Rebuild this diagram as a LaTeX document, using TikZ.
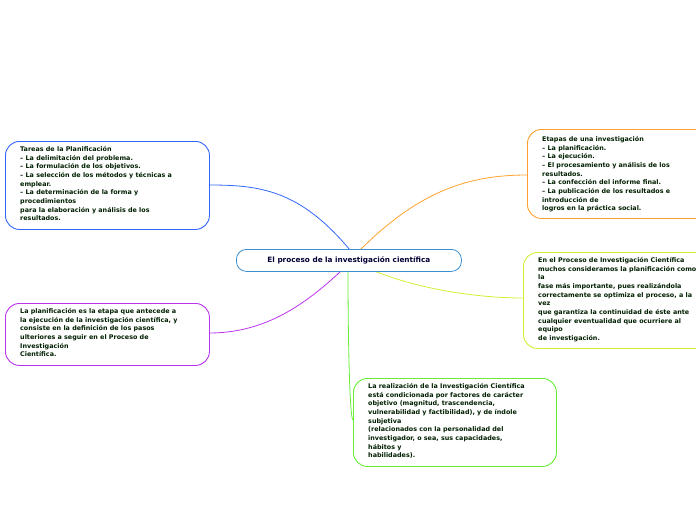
\documentclass[tikz,border=0pt]{standalone}
\usepackage{fontspec}
\setmainfont{DejaVu Sans}
\begin{document}
\begin{tikzpicture}[x=1pt,y=-1pt,
  box/.style={draw,rounded corners=14pt,line width=0.9pt,anchor=north west,inner sep=0pt},
  txt/.style={anchor=north west,align=left,inner sep=0pt,font=\fontsize{6.4}{8.7}\selectfont\bfseries,text=black!70!green!40!black},
  link/.style={line width=0.8pt}]
\useasboundingbox (0,0) rectangle (696,520);
\clip (0,0) rectangle (696,520);
\definecolor{cb}{HTML}{3366FF}
\definecolor{cp}{HTML}{BB33EE}
\definecolor{co}{HTML}{FFA12E}
\definecolor{cy}{HTML}{D4EE33}
\definecolor{cg}{HTML}{66EE33}
\definecolor{cc}{HTML}{3A8FD0}
\coordinate (c1) at (350,250);
\coordinate (c2) at (342,270);
\coordinate (c3) at (360,250);
\coordinate (c4) at (372,270);
\coordinate (c5) at (348,270);
\coordinate (e1) at (209,185);
\coordinate (e2) at (209,333);
\coordinate (e3) at (527,175);
\coordinate (e4) at (523,298);
\coordinate (e5) at (353,420);
\draw[link,cb] (c1) .. controls (300,190) and (260,185) .. (e1);
\draw[link,cp] (c2) .. controls (300,310) and (260,333) .. (e2);
\draw[link,co] (c3) .. controls (420,190) and (470,175) .. (e3);
\draw[link,cy] (c4) .. controls (420,290) and (480,298) .. (e4);
\draw[link,cg] (c5) .. controls (348,350) and (350,420) .. (e5);
\node[box,cb,minimum width=204pt,minimum height=88pt] (b1) at (5,141) {};
\node[box,cp,minimum width=204pt,minimum height=62pt] (b2) at (5,303) {};
\node[box,co,minimum width=190pt,minimum height=89pt] (b3) at (527,129) {};
\node[box,cy,minimum width=190pt,minimum height=96pt] (b4) at (523,252) {};
\node[box,cg,minimum width=203pt,minimum height=88pt] (b5) at (353,378) {};
\node[box,cc,fill=white,rounded corners=10pt,line width=0.8pt,minimum width=225pt,minimum height=22pt] (b0) at (236,249) {};
\node[font=\fontsize{7.3}{9}\selectfont\bfseries,text=black!80!blue] (t0) at (b0.center) {El proceso de la investigación científica};
\node[txt] (t1) at (20,146) {Tareas de la Planificación\\– La delimitación del problema.\\– La formulación de los objetivos.\\– La selección de los métodos y técnicas a\\emplear.\\– La determinación de la forma y\\procedimientos\\para la elaboración y análisis de los\\resultados.};
\node[txt] (t2) at (20,308) {La planificación es la etapa que antecede a\\la ejecución de la investigación científica, y\\consiste en la definición de los pasos\\ulteriores a seguir en el Proceso de\\Investigación\\Científica.};
\node[txt] (t3) at (542,136) {Etapas de una investigación\\– La planificación.\\– La ejecución.\\– El procesamiento y análisis de los\\resultados.\\– La confección del informe final.\\– La publicación de los resultados e\\introducción de\\logros en la práctica social.};
\node[txt] (t4) at (538,257) {En el Proceso de Investigación Científica\\muchos consideramos la planificación como\\la\\fase más importante, pues realizándola\\correctamente se optimiza el proceso, a la\\vez\\que garantiza la continuidad de éste ante\\cualquier eventualidad que ocurriere al\\equipo\\de investigación.};
\node[txt] (t5) at (368,383) {La realización de la Investigación Científica\\está condicionada por factores de carácter\\objetivo (magnitud, trascendencia,\\vulnerabilidad y factibilidad), y de índole\\subjetiva\\(relacionados con la personalidad del\\investigador, o sea, sus capacidades,\\hábitos y\\habilidades).};
\end{tikzpicture}
\end{document}
